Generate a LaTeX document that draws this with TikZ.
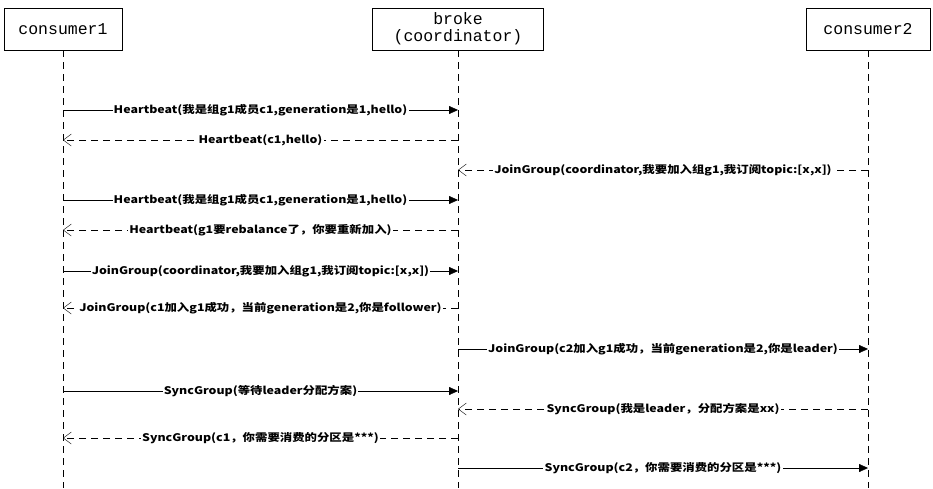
\documentclass[tikz,border=0pt]{standalone}
\usepackage{fontspec}
\setmainfont{Liberation Sans}
\newfontfamily\cjk{Noto Sans CJK SC}
\newfontfamily\monof{Liberation Mono}
\usetikzlibrary{arrows.meta,positioning}

\tikzset{
    actor/.style={draw,semithick,fill=white,minimum height=42pt,align=center,font=\monof\fontsize{16.5}{17}\selectfont,inner sep=2pt},
    life/.style={dashed,dash pattern=on 7pt off 5pt,thin},
    call/.style={-{Triangle[length=9pt,width=8pt]},thin},
    reply/.style={-{Straight Barb[length=8pt,width=12pt,open]},thin,dash pattern=on 7pt off 5pt},
    lbl/.style={fill=white,inner sep=1pt,xscale=1.18,font=\cjk\bfseries\fontsize{10.5}{12}\selectfont}
}

\begin{document}
\begin{tikzpicture}[x=1pt,y=-1pt]
    \useasboundingbox (0,0) rectangle (933,488);
    % === Acteurs ===
    \node[actor,minimum width=118pt] (c1) at (63,29) {consumer1};
    \node[actor,minimum width=171pt] (br) at (458,29) {broke\\(coordinator)};
    \node[actor,minimum width=124pt] (c2) at (868,29) {consumer2};
    \coordinate (c1e) at (63,488);
    \coordinate (bre) at (458,488);
    \coordinate (c2e) at (868,488);
    \draw[life] (c1.south) -- (c1e);
    \draw[life] (br.south) -- (bre);
    \draw[life] (c2.south) -- (c2e);

    % === Messages ===
    \foreach \y/\from/\to/\sty/\txt in {
        110/63/458/call/{Heartbeat(我是组g1成员c1,generation是1,hello)},
        140/458/63/reply/{Heartbeat(c1,hello)},
        170/868/458/reply/{JoinGroup(coordinator,我要加入组g1,我订阅topic:[x,x])},
        200/63/458/call/{Heartbeat(我是组g1成员c1,generation是1,hello)},
        230/458/63/reply/{Heartbeat(g1要rebalance了，你要重新加入)},
        271/63/458/call/{JoinGroup(coordinator,我要加入组g1,我订阅topic:[x,x])},
        308/458/63/reply/{JoinGroup(c1加入g1成功，当前generation是2,你是follower)},
        349/458/868/call/{JoinGroup(c2加入g1成功，当前generation是2,你是leader)},
        391/63/458/call/{SyncGroup(等待leader分配方案)},
        409/868/458/reply/{SyncGroup(我是leader，分配方案是xx)},
        438/458/63/reply/{SyncGroup(c1，你需要消费的分区是***)},
        468/458/868/call/{SyncGroup(c2，你需要消费的分区是***)}
    } {
        \coordinate (s\y) at (\from,\y);
        \coordinate (t\y) at (\to,\y);
        \draw[\sty] (s\y) -- node[lbl] {\txt} (t\y);
    }
\end{tikzpicture}
\end{document}
